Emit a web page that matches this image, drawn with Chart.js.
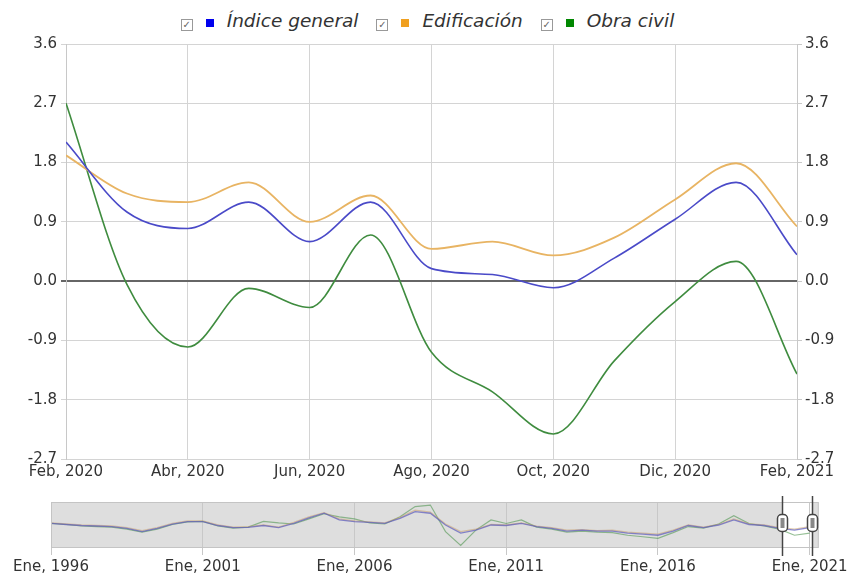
<!DOCTYPE html>
<html>
<head>
<meta charset="utf-8">
<script src="https://cdn.jsdelivr.net/npm/chart.js@4.4.1/dist/chart.umd.min.js"></script>
<style>
  body { margin: 0; background: #fff; width: 851px; height: 578px; overflow: hidden; position: relative; font-family: "DejaVu Sans", sans-serif; }
  #legend { position: absolute; top: 10px; left: 0; width: 867px; text-align: center; font-size: 18.5px; font-style: italic; color: #333; white-space: nowrap; }
  #legend .box { display: inline-block; width: 10px; height: 10px; border: 1px solid #999; margin-right: 13px; position: relative; top: 1px;
    font-style: normal; font-size: 10px; line-height: 10px; text-align: center; color: #666; }
  #legend .sq { display: inline-block; width: 8px; height: 8px; margin-right: 13px; }
  #legend .lbl { margin-right: 12px; }
  #mainWrap { position: absolute; left: 0; top: 0; width: 851px; height: 490px; }
  #navWrap { position: absolute; left: 0; top: 490px; width: 851px; height: 88px; }
</style>
</head>
<body>
<div id="legend">
  <span class="box">&#10003;</span><span class="sq" style="background:#0000ee"></span><span class="lbl">Índice general</span>
  <span class="box">&#10003;</span><span class="sq" style="background:#f0a020"></span><span class="lbl">Edificación</span>
  <span class="box">&#10003;</span><span class="sq" style="background:#008800"></span><span class="lbl">Obra civil</span>
</div>
<div id="mainWrap"><canvas id="mainChart"></canvas></div>
<div id="navWrap"><canvas id="navChart"></canvas></div>
<script>
// Monthly values (%), Feb 2020 .. Feb 2021
const monthLabels = ["Feb, 2020", "Mar, 2020", "Abr, 2020", "May, 2020", "Jun, 2020", "Jul, 2020", "Ago, 2020",
  "Sep, 2020", "Oct, 2020", "Nov, 2020", "Dic, 2020", "Ene, 2021", "Feb, 2021"];
const indiceGeneral = [2.11, 1.05, 0.80, 1.20, 0.60, 1.20, 0.19, 0.10, -0.10, 0.35, 0.94, 1.50, 0.40];
const edificacion = [1.91, 1.33, 1.20, 1.50, 0.90, 1.30, 0.49, 0.60, 0.39, 0.66, 1.24, 1.79, 0.83];
const obraCivil = [2.70, -0.05, -1.00, -0.11, -0.40, 0.70, -1.08, -1.68, -2.32, -1.21, -0.31, 0.30, -1.41];
const yTicks = [-2.7, -1.8, -0.9, 0.0, 0.9, 1.8, 2.7, 3.6];
const xTickIdx = [0, 2, 4, 6, 8, 10, 12];

// Navigator (full history, half-year steps 1996.0 .. 2021.0)
const navYears = [1996, 1996.5, 1997, 1997.5, 1998, 1998.5, 1999, 1999.5, 2000, 2000.5, 2001, 2001.5, 2002, 2002.5,
  2003, 2003.5, 2004, 2004.5, 2005, 2005.5, 2006, 2006.5, 2007, 2007.5, 2008, 2008.5, 2009, 2009.5, 2010, 2010.5,
  2011, 2011.5, 2012, 2012.5, 2013, 2013.5, 2014, 2014.5, 2015, 2015.5, 2016, 2016.5, 2017, 2017.5, 2018, 2018.5,
  2019, 2019.5, 2020, 2020.5, 2021];
const navGeneral = [0.3, 0.1, -0.1, -0.2, -0.3, -0.65, -1.3, -0.65, 0.15, 0.65, 0.65, -0.1, -0.5, -0.45,
  -0.1, -0.5, 0.3, 1.4, 2.3, 1.0, 0.65, 0.5, 0.3, 1.3, 2.6, 2.3, 0.0, -1.6, -1.0, 0.0,
  -0.1, 0.3, -0.3, -0.65, -1.2, -1.0, -1.2, -1.2, -1.6, -1.8, -2.0, -1.2, -0.1, -0.5, 0.0, 1.0,
  0.1, -0.1, -0.65, -1.0, -0.5];
const navEdificacion = [0.4, 0.2, 0.0, -0.1, -0.2, -0.5, -1.1, -0.5, 0.3, 0.8, 0.8, 0.0, -0.4, -0.3,
  0.0, -0.4, 0.5, 1.6, 2.4, 1.2, 0.8, 0.6, 0.4, 1.5, 2.9, 2.5, 0.2, -1.3, -0.8, 0.1,
  0.0, 0.4, -0.2, -0.5, -1.0, -0.9, -1.1, -1.0, -1.4, -1.6, -1.8, -1.0, 0.0, -0.4, 0.1, 1.2,
  0.2, 0.0, -0.5, -0.8, -0.3];
const navObraCivil = [0.3, 0.1, -0.2, -0.3, -0.4, -0.8, -1.4, -0.8, 0.1, 0.6, 0.7, -0.2, -0.6, -0.4,
  0.7, 0.4, 0.2, 1.2, 2.2, 1.6, 1.2, 0.4, 0.2, 1.6, 3.6, 3.9, -1.3, -4.0, -1.0, 1.0,
  0.3, 1.0, -0.4, -0.8, -1.4, -1.2, -1.4, -1.5, -2.0, -2.3, -2.6, -1.5, -0.3, -0.6, 0.2, 1.8,
  0.3, -0.2, -0.8, -2.0, -1.6];
const navSelStart = 2020 + 1 / 12;
const navSelEnd = 2021 + 1 / 12;
const navLabelYears = [1996, 2001, 2006, 2011, 2016, 2021];

const FONT = "DejaVu Sans";

// Main chart
const ctx = document.getElementById("mainChart").getContext("2d");
const mainChart = new Chart(ctx, {
  type: "line",
  data: {
    datasets: [
      { label: "Índice general", data: indiceGeneral.map((v, i) => ({ x: i, y: v })), borderColor: "#4a4ac8", borderWidth: 1.6 },
      { label: "Edificación", data: edificacion.map((v, i) => ({ x: i, y: v })), borderColor: "#e8b463", borderWidth: 1.8 },
      { label: "Obra civil", data: obraCivil.map((v, i) => ({ x: i, y: v })), borderColor: "#3f8c3f", borderWidth: 1.6 }
    ]
  },
  options: {
    responsive: true,
    maintainAspectRatio: false,
    animation: false,
    layout: { padding: { top: 44, left: 0, right: 0, bottom: 0 } },
    elements: { point: { radius: 0 }, line: { cubicInterpolationMode: "monotone", fill: false } },
    plugins: { legend: { display: false }, tooltip: { enabled: false } },
    scales: {
      x: {
        type: "linear", min: 0, max: 12,
        afterBuildTicks: s => { s.ticks = xTickIdx.map(v => ({ value: v })); },
        afterFit: s => { s.height = 31; },
        grid: { color: "#d4d4d4", drawTicks: false },
        border: { display: false },
        ticks: { padding: 4, color: "#333", font: { family: FONT, size: 15 }, callback: v => monthLabels[v], maxRotation: 0 }
      },
      y: {
        min: -2.7, max: 3.6,
        afterBuildTicks: s => { s.ticks = yTicks.map(v => ({ value: v })); },
        afterFit: s => { s.width = 66; },
        grid: {
          color: c => c.tick && Math.abs(c.tick.value) < 1e-9 ? "#666" : "#d4d4d4",
          lineWidth: c => c.tick && Math.abs(c.tick.value) < 1e-9 ? 2 : 1,
          tickLength: 5
        },
        border: { color: "#c8c8c8" },
        ticks: { padding: 4, color: "#333", font: { family: FONT, size: 15 }, callback: v => v.toFixed(1) }
      },
      y2: {
        position: "right",
        min: -2.7, max: 3.6,
        afterBuildTicks: s => { s.ticks = yTicks.map(v => ({ value: v })); },
        afterFit: s => { s.width = 54; },
        grid: { drawOnChartArea: false, color: "#c8c8c8", tickLength: 5 },
        border: { color: "#c8c8c8" },
        ticks: { padding: 3, color: "#333", font: { family: FONT, size: 15 }, callback: v => v.toFixed(1) }
      }
    }
  }
});

// Navigator: grey mask outside the selected range, frame and handles
const navPlugin = {
  id: "navMask",
  beforeDraw(chart) {
    const { ctx, chartArea: a, scales } = chart;
    const x0 = scales.x.getPixelForValue(navSelStart);
    const x1 = scales.x.getPixelForValue(navSelEnd);
    ctx.save();
    ctx.fillStyle = "#dedede";
    ctx.fillRect(a.left, a.top, x0 - a.left, a.bottom - a.top);
    ctx.fillRect(x1, a.top, a.right - x1, a.bottom - a.top);
    ctx.restore();
  },
  afterDraw(chart) {
    const { ctx, chartArea: a, scales } = chart;
    ctx.save();
    ctx.strokeStyle = "#c4c4c4";
    ctx.lineWidth = 1;
    ctx.strokeRect(a.left + 0.5, a.top + 0.5, a.right - a.left - 1, a.bottom - a.top - 1);
    [navSelStart, navSelEnd].forEach(v => {
      const x = Math.round(scales.x.getPixelForValue(v)) + 0.5;
      ctx.strokeStyle = "#444";
      ctx.lineWidth = 1.5;
      ctx.beginPath();
      ctx.moveTo(x, a.top - 6);
      ctx.lineTo(x, a.bottom + 8);
      ctx.stroke();
      const cy = (a.top + a.bottom) / 2 - 2;
      ctx.fillStyle = "#fff";
      ctx.beginPath();
      ctx.roundRect(x - 5, cy - 8.5, 10, 17, 4);
      ctx.fill();
      ctx.stroke();
      ctx.fillStyle = "#888";
      ctx.fillRect(x - 2, cy - 5, 4, 10);
    });
    ctx.restore();
  }
};

const navCtx = document.getElementById("navChart").getContext("2d");
const navChart = new Chart(navCtx, {
  type: "line",
  data: {
    datasets: [
      { label: "Índice general", data: navYears.map((y, i) => ({ x: y, y: navGeneral[i] })), borderColor: "rgba(90,90,190,0.7)", borderWidth: 1.3 },
      { label: "Edificación", data: navYears.map((y, i) => ({ x: y, y: navEdificacion[i] })), borderColor: "rgba(200,160,110,0.55)", borderWidth: 1.3 },
      { label: "Obra civil", data: navYears.map((y, i) => ({ x: y, y: navObraCivil[i] })), borderColor: "rgba(80,150,80,0.6)", borderWidth: 1.2 }
    ]
  },
  options: {
    responsive: true,
    maintainAspectRatio: false,
    animation: false,
    layout: { padding: { top: 12, left: 51, right: 31, bottom: 0 } },
    elements: { point: { radius: 0 }, line: { tension: 0, fill: false } },
    plugins: { legend: { display: false }, tooltip: { enabled: false } },
    scales: {
      x: {
        type: "linear", min: 1996, max: 2021.3,
        afterBuildTicks: s => { s.ticks = navLabelYears.map(v => ({ value: v })); },
        afterFit: s => { s.height = 30; },
        grid: { color: "#c8c8c8", tickLength: 7 },
        border: { display: false },
        ticks: { padding: 3, color: "#333", font: { family: FONT, size: 15 }, callback: v => "Ene, " + v, maxRotation: 0 }
      },
      y: { display: false, min: -4.5, max: 4.5 }
    }
  },
  plugins: [navPlugin]
});
</script>
</body>
</html>
